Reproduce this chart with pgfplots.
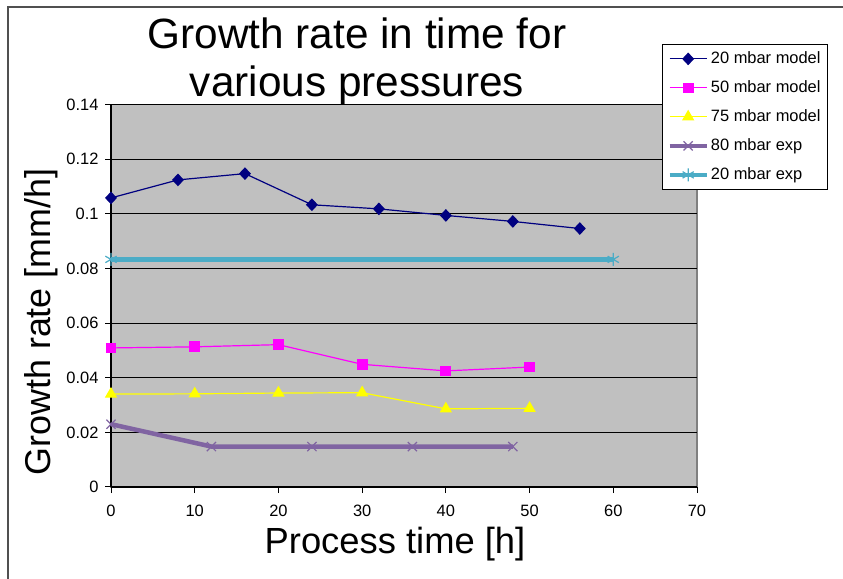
\documentclass[border=0pt]{standalone}
\usepackage{pgfplots}
\pgfplotsset{compat=1.18}
\usepackage{fontspec}
\setmainfont{Liberation Sans}

\definecolor{plotbg}{HTML}{C0C0C0}
\definecolor{plotborder}{HTML}{808080}
\definecolor{navyline}{HTML}{000080}
\definecolor{magline}{HTML}{FF00FF}
\definecolor{yelline}{HTML}{FFFF00}
\definecolor{purpline}{HTML}{8064A2}
\definecolor{tealline}{HTML}{4BACC6}
\definecolor{framegray}{HTML}{505050}

\begin{document}
\begin{tikzpicture}
\useasboundingbox (0,0) rectangle (843bp,579bp);
% outer chart frame (left and top edges)
\draw[line width=2bp, framegray] (8.3bp,0bp) -- (8.3bp,572.3bp) -- (843bp,572.3bp);

\begin{axis}[
  at={(111bp,92bp)}, anchor=south west,
  scale only axis, width=586bp, height=382.5bp,
  xmin=0, xmax=70, ymin=0, ymax=0.14,
  xtick={0,10,...,70},
  ytick={0,0.02,...,0.14},
  axis x line*=bottom, axis y line*=left,
  axis line style={-, black, line width=1.5bp},
  axis background/.style={fill=plotbg, draw=plotborder, line width=1.5bp},
  ymajorgrids, major grid style={black, line width=1bp},
  tick align=outside, major tick length=6bp,
  tick style={black, line width=1bp},
  ticklabel style={font=\fontsize{16.5}{19}\selectfont},
  xticklabel style={yshift=-9bp},
  /pgf/number format/assume math mode=true,
  yticklabel style={xshift=-3bp, /pgf/number format/fixed, /pgf/number format/precision=2},
  clip=false,
  legend cell align=left,
  legend image code/.code={%
    \draw[mark repeat=2, mark phase=2, #1]
      plot coordinates {(0bp,0bp) (18.5bp,0bp) (37bp,0bp)};},
  legend style={
    at={(0.9403,1.1582)}, anchor=north west,
    draw=black, line width=0.8bp, fill=white,
    font=\fontsize{16.5}{19}\selectfont,
    inner xsep=5bp, inner ysep=5bp,
    row sep=10bp,
    nodes={inner sep=2bp, text height=12bp, text depth=3bp},
  },
]

\addplot[navyline, line width=1.2bp, mark=diamond*, mark size=5.5,
  mark options={solid, fill=navyline, xscale=1.25}]
  coordinates {(0,0.1058) (8,0.1124) (16,0.1147) (24,0.1033)
               (32,0.1018) (40,0.0994) (48,0.0972) (56,0.0946)};
\addlegendentry{20 mbar model}

\addplot[magline, line width=1.2bp, mark=square*, mark size=4.8,
  mark options={solid, fill=magline}]
  coordinates {(0,0.0509) (10,0.0513) (20,0.0521) (30,0.0449)
               (40,0.0425) (50,0.0439)};
\addlegendentry{50 mbar model}

\addplot[yelline, line width=1.2bp, mark=triangle*, mark size=6,
  mark options={solid, fill=yelline}]
  coordinates {(0,0.0340) (10,0.0341) (20,0.0344) (30,0.0345)
               (40,0.0286) (50,0.0288)};
\addlegendentry{75 mbar model}

\addplot[purpline, line width=4.5bp, mark=x, mark size=6.5,
  mark options={solid, line width=1.2bp}]
  coordinates {(0,0.0230) (12,0.0148) (24,0.0148) (36,0.0148) (48,0.0148)};
\addlegendentry{80 mbar exp}

\addplot[tealline, line width=4.5bp, mark=asterisk, mark size=6.5,
  mark options={solid, line width=1.2bp}]
  coordinates {(0,0.0833) (60,0.0833)};
\addlegendentry{20 mbar exp}

\end{axis}

% chart title
\node[anchor=base, font=\fontsize{42.5}{48}\selectfont] at (357bp,530bp) {Growth rate in time for};
\node[anchor=base, font=\fontsize{42.5}{48}\selectfont] at (357bp,482bp) {various pressures};
% axis titles
\node[anchor=base, font=\fontsize{36.5}{42}\selectfont] at (395bp,26bp) {Process time [h]};
\node[anchor=base, rotate=90, font=\fontsize{36}{42}\selectfont] at (50bp,257bp) {Growth rate [mm/h]};
\end{tikzpicture}
\end{document}
